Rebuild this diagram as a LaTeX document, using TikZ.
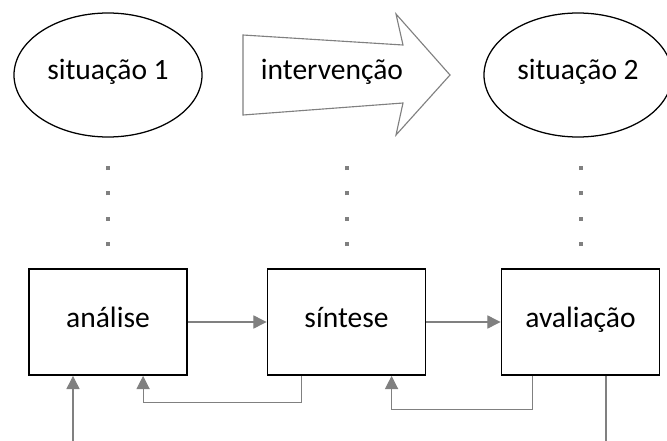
\documentclass[tikz,border=0pt]{standalone}
\usepackage{fontspec}
\setmainfont{Carlito}
\usetikzlibrary{arrows.meta,shapes.geometric}

\begin{document}
\begin{tikzpicture}[font=\fontsize{21}{25}\selectfont, >={Triangle[length=3.3mm, width=3.3mm]},
    txt/.style={text height=0.77em, text depth=0.2em, inner sep=0pt},
    sit/.style={txt, draw, ellipse, line width=0.9pt, minimum width=4.7cm, minimum height=3.1cm},
    blk/.style={txt, text height=0.92em, draw, line width=1.3pt, minimum width=3.95cm, minimum height=2.65cm},
    flow/.style={draw=gray, line width=0.75pt, ->},
    dotcol/.style={draw=gray, line width=1mm, dash pattern=on 1mm off 5.33mm, shorten <=5.5mm}]

  \clip (0,0) rectangle (16.675,-11.025);

  % ---------------- situations ----------------
  \node[sit] (sit1) at (2.7,-1.875) {situação 1};
  \node[sit] (sit2) at (14.45,-1.875) {situação 2};
  \draw[gray, line width=0.8pt] (6.075,-0.875) -- (10.075,-1.125) -- (9.9,-0.35) -- (11.25,-1.875)
    -- (9.9,-3.375) -- (10.075,-2.575) -- (6.075,-2.875) -- cycle;
  \node[txt] (int) at (8.3,-1.875) {intervenção};
  \coordinate (ib) at (8.6625,-4.15);

  % ---------------- steps ----------------
  \node[blk] (ana) at (2.7,-8.05) {análise};
  \node[blk] (sin) at (8.6625,-8.05) {síntese};
  \node[blk] (ava) at (14.5125,-8.05) {avaliação};

  \draw[dotcol, shorten >=7mm] (ana.north) -- (sit1.south);
  \draw[dotcol] (sin.north) -- (ib);
  \draw[dotcol, shorten >=7mm] (ava.north) -- (ava.north |- sit2.south);

  \draw[flow] (ana) -- (sin);
  \draw[flow] (sin) -- (ava);
  % feedback loops
  \draw[flow] ([xshift=8.75mm]sin.south west) -- ++(0,-6.75mm) -| ([xshift=28.75mm]ana.south west);
  \draw[flow] ([xshift=8mm]ava.south west) -- ++(0,-8.5mm) -| ([xshift=31.25mm]sin.south west);
  % in and out
  \coordinate (in) at (1.825,-11.1);
  \coordinate (out) at (15.15,-11.1);
  \draw[flow] (in) -- (in |- ana.south);
  \draw[flow, -] (out |- ava.south) -- (out);
\end{tikzpicture}
\end{document}
